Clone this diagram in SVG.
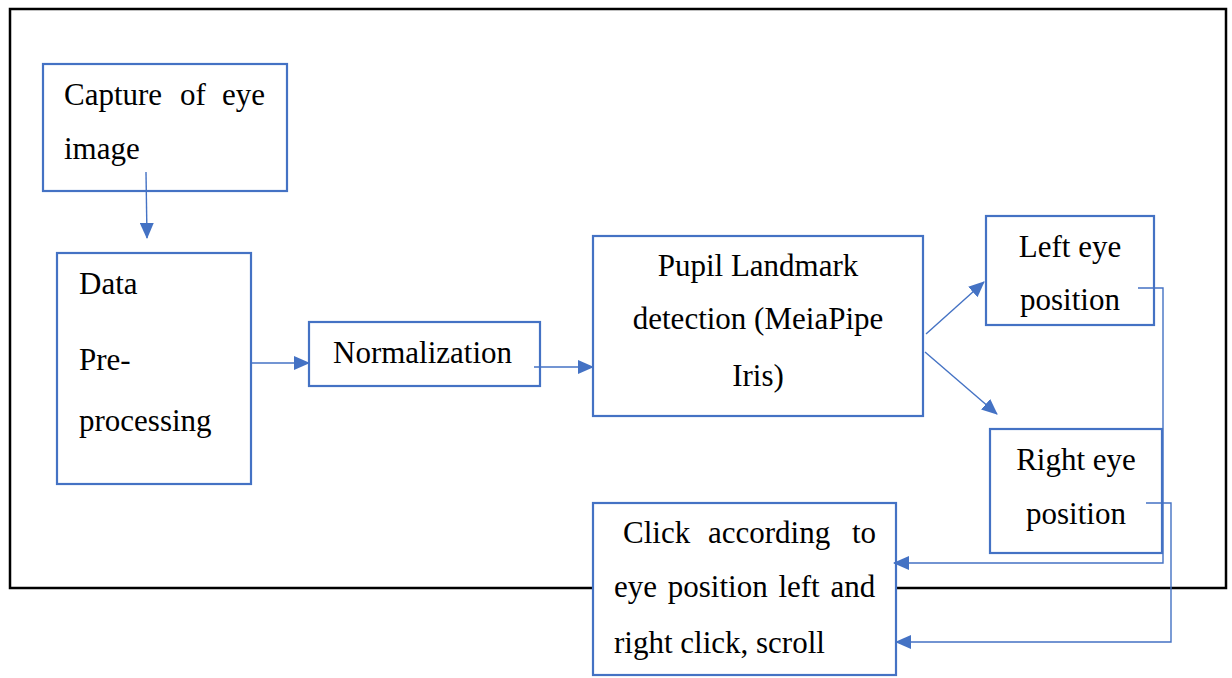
<svg xmlns="http://www.w3.org/2000/svg" width="1232" height="678" viewBox="0 0 1232 678">
<style>
.box{fill:#fff;stroke:#4472C4;stroke-width:2.2}
.t{font-family:"Liberation Serif","Times New Roman",serif;font-size:31px;fill:#000}
.c{text-anchor:middle}
.con{fill:none;stroke:#4472C4;stroke-width:1.4}
</style>
<defs>
<marker id="ahl" markerWidth="16" markerHeight="14" refX="15" refY="7" orient="auto" markerUnits="userSpaceOnUse" viewBox="0 0 16 14">
<path d="M0,0 L16,7 L0,14 z" fill="#4472C4"/>
</marker>
</defs>
<rect x="10" y="9" width="1216" height="579" fill="#fff" stroke="#000" stroke-width="2.5"/>
<g id="capture">
<rect class="box" x="43" y="64" width="244" height="127"/>
<text class="t" y="105"><tspan x="64">Capture</tspan><tspan x="180">of</tspan><tspan x="222">eye</tspan></text>
<text class="t" x="64" y="159">image</text>
</g>
<g id="preprocessing">
<rect class="box" x="57" y="253" width="194" height="231"/>
<text class="t" x="79" y="294">Data</text>
<text class="t" x="79" y="370">Pre-</text>
<text class="t" x="79" y="431">processing</text>
</g>
<g id="normalization">
<rect class="box" x="309" y="322" width="231" height="64"/>
<text class="t" x="333" y="363">Normalization</text>
</g>
<g id="pupil">
<rect class="box" x="593" y="236" width="330" height="180"/>
<text class="t c" x="758" y="276">Pupil Landmark</text>
<text class="t c" x="758" y="329">detection (MeiaPipe</text>
<text class="t c" x="758" y="386">Iris)</text>
</g>
<g id="left-eye">
<rect class="box" x="986" y="216" width="168" height="109"/>
<text class="t c" x="1070" y="257">Left eye</text>
<text class="t c" x="1070" y="310">position</text>
</g>
<g id="right-eye">
<rect class="box" x="990" y="429" width="172" height="124"/>
<text class="t c" x="1076" y="470">Right eye</text>
<text class="t c" x="1076" y="524">position</text>
</g>
<g id="click">
<rect class="box" x="593" y="503" width="303" height="172"/>
<text class="t" y="543"><tspan x="623">Click</tspan><tspan x="708">according</tspan><tspan x="852">to</tspan></text>
<text class="t" x="614" y="597" word-spacing="3">eye position left and</text>
<text class="t" x="614" y="653">right click, scroll</text>
</g>
<g id="connectors">
<path class="con" d="M146,172 L147,238" marker-end="url(#ahl)"/>
<path class="con" d="M251,363 L309,363" marker-end="url(#ahl)"/>
<path class="con" d="M534,367 L593,367" marker-end="url(#ahl)"/>
<path class="con" d="M926,334 L984,282" marker-end="url(#ahl)"/>
<path class="con" d="M925,352 L997,414" marker-end="url(#ahl)"/>
<path class="con" d="M1138,288 L1163,288 L1163,563 L894,563" marker-end="url(#ahl)"/>
<path class="con" d="M1146,503 L1171,503 L1171,642 L896,642" marker-end="url(#ahl)"/>
</g>
</svg>
